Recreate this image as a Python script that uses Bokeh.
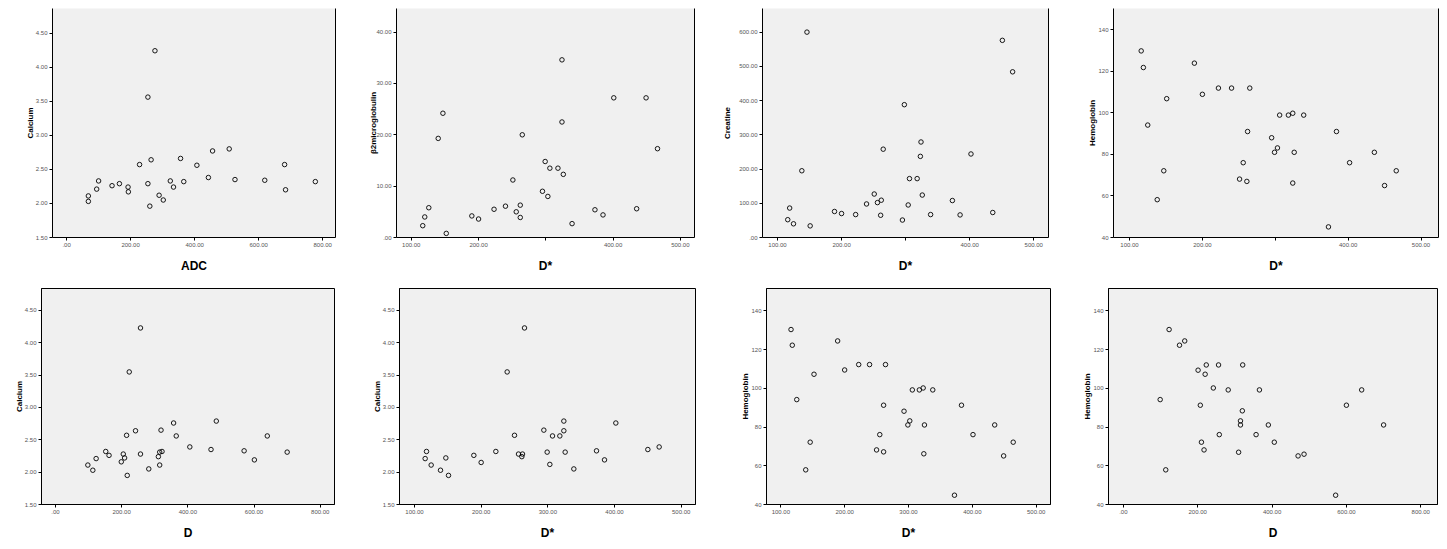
from bokeh.plotting import figure
from bokeh.layouts import column, row
from bokeh.models import Range1d, FixedTicker, CustomJSTickFormatter, LinearAxis
from bokeh.embed import file_html
from bokeh.resources import INLINE

# ---------------- data ----------------
# Panel 1: Calcium vs ADC
p1_adc = [276, 254, 264, 228, 356, 407, 456, 508, 681, 68, 68, 94, 100, 142, 165,
          192, 193, 254, 260, 289, 302, 324, 334, 366, 443, 526, 619, 684, 777]
p1_calcium = [4.24, 3.56, 2.64, 2.57, 2.66, 2.56, 2.77, 2.80, 2.57, 2.11, 2.03, 2.21, 2.33, 2.26, 2.29,
              2.24, 2.17, 2.29, 1.96, 2.12, 2.05, 2.33, 2.24, 2.32, 2.38, 2.35, 2.34, 2.20, 2.32]

# Panel 2: beta2 microglobulin vs D*
p2_dstar = [324, 147, 140, 265, 324, 401, 449, 466, 299, 306, 318, 326, 251, 295, 303,
            117, 120, 126, 152, 190, 200, 223, 240, 256, 262, 262, 339, 373, 385, 435]
p2_b2m = [34.6, 24.2, 19.3, 20.0, 22.5, 27.2, 27.2, 17.3, 14.8, 13.5, 13.5, 12.3, 11.2, 9.0, 8.0,
          2.3, 4.0, 5.8, 0.8, 4.2, 3.6, 5.5, 6.1, 5.0, 6.3, 3.9, 2.7, 5.4, 4.4, 5.6]

# Panel 3: Creatine vs D*
p3_dstar = [146, 451, 467, 298, 324, 265, 323, 402, 138, 306, 318, 251, 326, 239, 256,
            262, 373, 304, 119, 189, 200, 222, 261, 339, 385, 436, 116, 125, 151, 295]
p3_creatine = [600, 576, 484, 388, 279, 258, 237, 244, 195, 172, 172, 127, 124, 98, 102,
               109, 108, 95, 86, 76, 70, 67, 65, 67, 66, 73, 52, 40, 34, 51]

# Panel 4: Hemoglobin vs D*
p4_dstar = [116, 119, 189, 222, 240, 265, 200, 151, 306, 318, 324, 339, 125, 262, 384,
            295, 303, 299, 326, 436, 256, 402, 147, 466, 251, 261, 324, 450, 138, 373]
p4_hemoglobin = [129.8, 121.8, 123.9, 111.9, 111.9, 111.9, 108.9, 106.8, 98.9, 98.9, 99.8, 98.9, 94.1, 91.0, 91.0,
                 88.0, 83.1, 81.0, 81.0, 81.0, 76.0, 76.0, 72.1, 72.1, 68.1, 67.0, 66.2, 65.0, 58.2, 45.1]

# Panel 5: Calcium vs D
p5_d = [257, 223, 242, 215, 319, 357, 365, 406, 486, 640, 470, 570, 601, 700, 98,
        113, 123, 152, 162, 199, 205, 209, 217, 257, 282, 311, 315, 315, 322]
p5_calcium = [4.23, 3.55, 2.64, 2.57, 2.65, 2.76, 2.56, 2.39, 2.79, 2.56, 2.35, 2.33, 2.19, 2.31, 2.11,
              2.03, 2.21, 2.32, 2.26, 2.16, 2.28, 2.22, 1.95, 2.28, 2.05, 2.24, 2.11, 2.31, 2.32]

# Panel 6: Calcium vs D*
p6_dstar = [265, 239, 250, 294, 307, 318, 324, 324, 402, 116, 118, 125, 139, 147, 151,
            189, 200, 222, 256, 262, 261, 299, 303, 326, 339, 373, 385, 450, 467]
p6_calcium = [4.23, 3.55, 2.57, 2.65, 2.56, 2.56, 2.79, 2.64, 2.76, 2.21, 2.32, 2.11, 2.03, 2.22, 1.95,
              2.26, 2.15, 2.32, 2.28, 2.28, 2.24, 2.31, 2.12, 2.31, 2.05, 2.33, 2.19, 2.35, 2.39]

# Panel 7: Hemoglobin vs D*
p7_dstar = [116, 118, 189, 222, 239, 264, 200, 152, 125, 306, 317, 323, 338, 261, 383,
            293, 302, 299, 325, 435, 255, 401, 146, 464, 250, 261, 324, 449, 139, 372]
p7_hemoglobin = [130.4, 122.3, 124.5, 112.3, 112.3, 112.3, 109.5, 107.3, 94.2, 99.2, 99.2, 100.2, 99.2, 91.3, 91.3,
                 88.2, 83.2, 81.1, 81.1, 81.1, 76.1, 76.1, 72.2, 72.2, 68.2, 67.2, 66.2, 65.1, 57.9, 44.8]

# Panel 8: Hemoglobin vs D
p8_d = [123, 151, 165, 201, 223, 256, 321, 220, 242, 282, 366, 99, 207, 320, 315,
        315, 390, 258, 357, 210, 406, 217, 310, 470, 486, 114, 571, 600, 641, 700]
p8_hemoglobin = [130.4, 122.3, 124.5, 109.4, 112.1, 112.1, 112.1, 107.3, 100.2, 99.2, 99.2, 94.2, 91.3, 88.4, 83.2,
                 81.1, 81.1, 76.1, 76.1, 72.2, 72.2, 68.2, 67.0, 65.1, 66.0, 57.9, 44.8, 91.3, 99.2, 81.1]

# tick values
ticks_adc = [0, 200, 400, 600, 800]
ticks_dstar = [100, 200, 300, 400, 500]
ticks_calcium = [1.5, 2.0, 2.5, 3.0, 3.5, 4.0, 4.5]
ticks_b2m = [0, 10, 20, 30, 40]
ticks_creatine = [0, 100, 200, 300, 400, 500, 600]
ticks_hemoglobin = [40, 60, 80, 100, 120, 140]

FONT = "Liberation Sans"


def fmt(decimals, hidden=()):
    return CustomJSTickFormatter(args=dict(dec=decimals, hidden=list(hidden)), code="""
        if (hidden.indexOf(tick) >= 0) { return ""; }
        let s = tick.toFixed(dec);
        if (s.startsWith("0.")) { s = s.substring(1); }
        return s;
    """)


def style_axis(ax):
    ax.axis_line_color = "black"
    ax.axis_line_width = 1
    ax.major_tick_line_color = "black"
    ax.major_tick_in = 0
    ax.major_tick_out = 3
    ax.minor_tick_line_color = None
    ax.major_label_text_font = FONT
    ax.major_label_text_font_size = "6px"
    ax.major_label_text_color = "#555555"
    ax.major_label_standoff = 2
    ax.axis_label_text_font = FONT
    ax.axis_label_text_font_style = "bold"
    ax.axis_label_text_color = "black"


def make(x, y, xr, yr, xt, yt, xdec, ydec, xlabel, ylabel, width, height,
         bl, br, bt, bb, top_row, xhidden=(), ystand=-2):
    p = figure(width=width, height=height, output_backend="svg", toolbar_location=None,
               x_range=Range1d(*xr), y_range=Range1d(*yr),
               min_border_left=bl, min_border_right=br, min_border_top=bt, min_border_bottom=bb)
    p.background_fill_color = "#F0F0F0"
    p.border_fill_color = "white"
    p.grid.visible = False
    p.xaxis.ticker = FixedTicker(ticks=xt)
    p.yaxis.ticker = FixedTicker(ticks=yt)
    p.xaxis.formatter = fmt(xdec, xhidden)
    p.yaxis.formatter = fmt(ydec)
    for ax in p.xaxis + p.yaxis:
        style_axis(ax)
    p.xaxis.axis_label = xlabel
    p.xaxis.axis_label_text_font_size = "12px"
    p.xaxis.axis_label_standoff = 9
    p.yaxis.axis_label = ylabel
    p.yaxis.axis_label_text_font_size = "8px"
    p.yaxis.axis_label_standoff = ystand
    if top_row:
        p.outline_line_color = None
        rax = LinearAxis(ticker=FixedTicker(ticks=[]), axis_line_color="black",
                         major_tick_line_color=None, minor_tick_line_color=None,
                         major_label_text_font_size="0px")
        p.add_layout(rax, "right")
    else:
        p.outline_line_color = "black"
        p.outline_line_alpha = 1
        p.outline_line_width = 1
    p.scatter(x, y, marker="circle", size=4.5, fill_color=None, line_color="black", line_width=0.9)
    return p


# top row: frames from y=8 to y=238
f1 = make(p1_adc, p1_calcium, (-44, 840), (1.5, 4.86), ticks_adc, ticks_calcium, 2, 2,
          "ADC", "Calcium", 360, 275, 52, 25, 8, 37, True)
f2 = make(p2_dstar, p2_b2m, (78, 521), (0, 44.6), ticks_dstar, ticks_b2m, 2, 2,
          "D*", "\u03b22microglobulin", 360, 275, 36, 26, 8, 37, True, xhidden=[300], ystand=-5)
f3 = make(p3_dstar, p3_creatine, (76.6, 523), (0, 669), ticks_dstar, ticks_creatine, 2, 2,
          "D*", "Creatine", 360, 275, 42, 32, 8, 37, True, xhidden=[300], ystand=4)
f4 = make(p4_dstar, p4_hemoglobin, (78, 524), (40, 150.2), ticks_dstar, ticks_hemoglobin, 2, 0,
          "D*", "Hemoglobin", 367, 275, 33, 9, 8, 37, True, xhidden=[300])

# bottom row: frames from y=288 to y=504
f5 = make(p5_d, p5_calcium, (-42, 843), (1.5, 4.84), ticks_adc, ticks_calcium, 2, 2,
          "D", "Calcium", 360, 274, 41, 26, 13, 45, False)
f6 = make(p6_dstar, p6_calcium, (77.5, 521.5), (1.5, 4.84), ticks_dstar, ticks_calcium, 2, 2,
          "D*", "Calcium", 360, 274, 39, 25, 13, 45, False)
f7 = make(p7_dstar, p7_hemoglobin, (77.6, 522.4), (40, 151.6), ticks_dstar, ticks_hemoglobin, 2, 0,
          "D*", "Hemoglobin", 360, 274, 46, 30, 13, 45, False)
f8 = make(p8_d, p8_hemoglobin, (-40, 845), (40, 151.6), ticks_adc, ticks_hemoglobin, 2, 0,
          "D", "Hemoglobin", 367, 274, 26, 10, 13, 45, False)

layout = column(row(f1, f2, f3, f4), row(f5, f6, f7, f8))
open("out.html", "w").write(file_html(layout, INLINE))
